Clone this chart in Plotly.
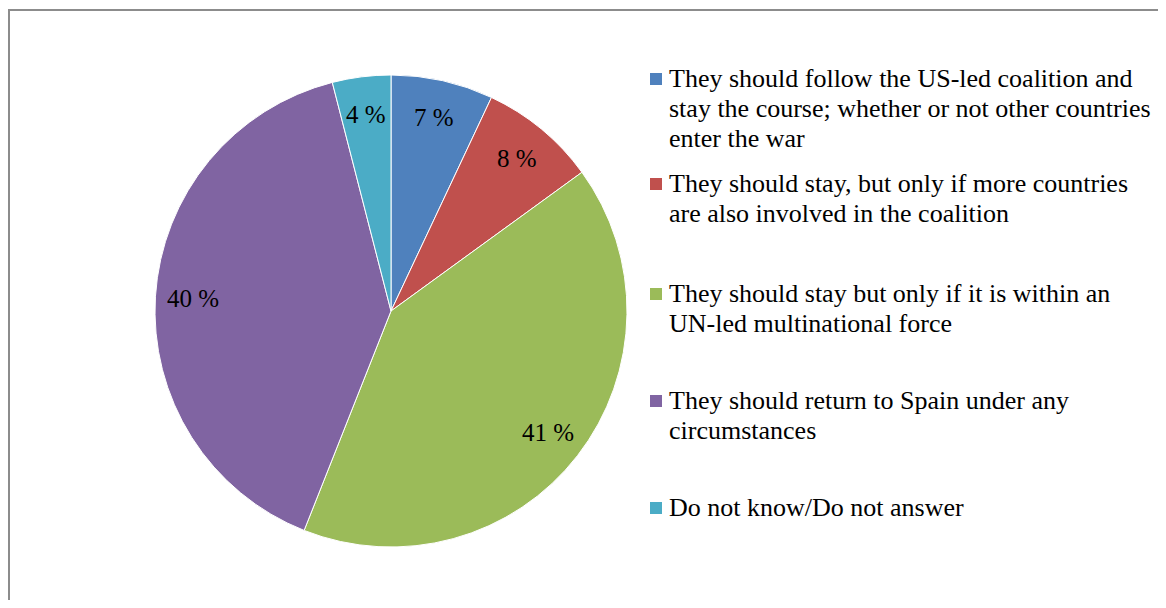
import numpy as np
import plotly.graph_objects as go

# data
answers = [
    "They should follow the US-led coalition and stay the course; whether or not other countries enter the war",
    "They should stay, but only if more countries are also involved in the coalition",
    "They should stay but only if it is within an UN-led multinational force",
    "They should return to Spain under any circumstances",
    "Do not know/Do not answer",
]
legend_lines = [
    ["They should follow the US-led coalition and", "stay the course; whether or not other countries", "enter the war"],
    ["They should stay, but only if more countries", "are also involved in the coalition"],
    ["They should stay but only if it is within an", "UN-led multinational force"],
    ["They should return to Spain under any", "circumstances"],
    ["Do not know/Do not answer"],
]
shares = [7, 8, 41, 40, 4]
colors = ["#4F81BD", "#C0504D", "#9BBB59", "#8064A2", "#4BACC6"]

# figure fits inside the page's 8px body margin so no scrollbars appear
OFF = 8
W, H = 1166 - 2 * OFF, 608 - 2 * OFF
FONT = "Liberation Serif, Times New Roman, serif"

# pie geometry in screen pixels
cx, cy, R = 391, 311, 236


def px_x(x):
    return (x - OFF) / W


def px_y(y):
    return 1 - (y - OFF) / H


fig = go.Figure()
fig.add_trace(go.Pie(
    labels=answers, values=shares,
    sort=False, direction="clockwise", rotation=0,
    marker=dict(colors=colors, line=dict(color="white", width=1)),
    textinfo="none", hoverinfo="label+percent",
    showlegend=False,
    domain=dict(x=[px_x(cx - R), px_x(cx + R)], y=[px_y(cy + R), px_y(cy - R)]),
))

# slice labels at "inside end" position, angles from the data
total = sum(shares)
cum = np.cumsum([0] + shares[:-1])
r_lab = 0.84 * R
for v, c0 in zip(shares, cum):
    theta = 2 * np.pi * (c0 + v / 2) / total
    lx = cx + r_lab * np.sin(theta)
    ly = cy - r_lab * np.cos(theta)
    fig.add_annotation(
        x=px_x(lx), y=px_y(ly), xref="paper", yref="paper",
        text=f"{v} %", showarrow=False, xanchor="center", yanchor="middle",
        font=dict(family=FONT, size=25, color="black"),
    )

# legend drawn by hand to match the original spacing
baselines = [86, 191, 301, 408, 515]
line_gap = 30
lfs = 26
for lines, col, b in zip(legend_lines, colors, baselines):
    fig.add_shape(
        type="rect", xref="paper", yref="paper",
        x0=px_x(650), x1=px_x(662), y0=px_y(b - 1), y1=px_y(b - 13),
        fillcolor=col, line=dict(width=0),
    )
    for i, t in enumerate(lines):
        yb = b + i * line_gap
        fig.add_annotation(
            x=px_x(667), y=px_y(yb - 0.3 * lfs), xref="paper", yref="paper",
            text=t, showarrow=False, xanchor="left", yanchor="middle",
            font=dict(family=FONT, size=lfs, color="black"),
        )

# chart-area frame (right and bottom edges fall outside the view)
fig.add_shape(
    type="rect", xref="paper", yref="paper",
    x0=px_x(9), x1=px_x(1190), y0=px_y(640), y1=px_y(10),
    line=dict(color="#8C8C8C", width=2), fillcolor="rgba(0,0,0,0)",
)

fig.update_layout(
    width=W, height=H,
    margin=dict(l=0, r=0, t=0, b=0),
    paper_bgcolor="white", plot_bgcolor="white",
    font=dict(family=FONT),
)
fig.write_html("out.html")
